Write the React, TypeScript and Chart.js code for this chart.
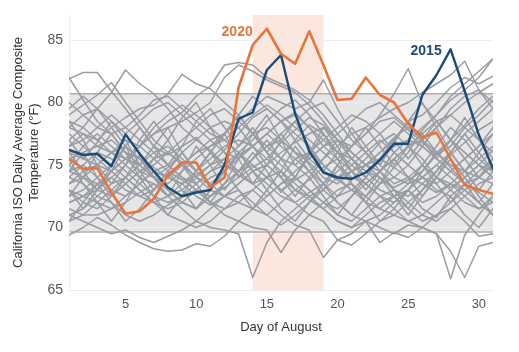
import React, { useEffect, useRef } from "react";
import { Chart, registerables } from "chart.js";

Chart.register(...registerables);

const DAYS = [1, 2, 3, 4, 5, 6, 7, 8, 9, 10, 11, 12, 13, 14, 15, 16, 17, 18, 19, 20, 21, 22, 23, 24, 25, 26, 27, 28, 29, 30, 31];
const X_TICKS = [5, 10, 15, 20, 25, 30];
const Y_TICKS = [65, 70, 75, 80, 85];

const Y2020 = [75.5, 74.7, 74.75, 72.8, 71.1, 71.3, 72.3, 74.2, 75.2, 75.2, 73.2, 74.0, 81.2, 84.6, 85.9, 83.9, 83.1, 85.7, 83.0, 80.2, 80.3, 82.0, 80.6, 80.0, 78.3, 77.2, 77.6, 75.5, 73.4, 73.0, 72.7];
const Y2015 = [76.2, 75.8, 75.9, 74.9, 77.45, 75.9, 74.5, 73.2, 72.5, 72.8, 73.0, 75.0, 78.7, 79.2, 82.6, 83.8, 79.1, 76.1, 74.4, 74.0, 73.9, 74.4, 75.4, 76.7, 76.7, 80.6, 82.2, 84.25, 80.9, 77.4, 74.7];

const g01 = [81.9, 82.4, 82.4, 80.9, 79.5, 78.0, 76.5, 75.8, 76.5, 77.2, 76.0, 75.0, 74.5, 75.5, 76.5, 77.0, 76.0, 75.2, 74.0, 73.5, 74.5, 75.5, 76.8, 77.5, 76.5, 75.5, 74.0, 73.2, 74.0, 75.0, 76.2];
const g02 = [82.0, 80.2, 78.5, 77.5, 76.0, 75.5, 74.8, 74.0, 73.5, 74.2, 75.0, 76.2, 77.5, 78.8, 79.5, 78.5, 77.0, 75.5, 74.5, 73.8, 73.0, 72.5, 73.5, 74.8, 76.0, 77.8, 79.0, 80.2, 81.0, 82.0, 83.5];
const g03 = [79.0, 79.8, 80.6, 81.6, 80.0, 78.5, 77.0, 76.0, 75.2, 74.0, 73.5, 74.5, 75.8, 76.5, 75.5, 74.5, 73.0, 72.2, 71.5, 72.5, 73.8, 75.0, 76.0, 77.2, 78.0, 77.5, 76.0, 74.8, 73.5, 72.8, 72.0];
const g04 = [77.0, 78.0, 79.5, 80.8, 82.6, 81.5, 80.7, 79.5, 78.0, 77.0, 76.2, 75.0, 74.2, 73.5, 74.0, 75.5, 77.0, 78.2, 77.5, 76.0, 75.0, 74.0, 73.0, 72.5, 73.5, 75.0, 76.5, 78.0, 77.0, 75.5, 74.5];
const g05 = [78.0, 77.5, 77.0, 78.0, 78.8, 79.5, 79.8, 80.7, 82.25, 81.5, 81.1, 80.0, 79.0, 77.5, 76.0, 75.0, 74.0, 73.0, 72.0, 71.5, 72.5, 73.5, 74.5, 76.0, 77.0, 76.5, 75.5, 74.5, 73.5, 74.0, 75.0];
const g06 = [76.0, 75.5, 75.0, 76.0, 77.0, 76.5, 77.5, 78.5, 79.2, 80.5, 81.3, 83.0, 83.2, 83.0, 82.0, 81.5, 81.0, 80.2, 79.0, 77.5, 76.0, 75.0, 74.5, 75.5, 76.5, 77.0, 78.0, 79.0, 80.0, 80.8, 81.5];
const g07 = [73.5, 74.0, 75.0, 74.5, 75.5, 76.5, 77.5, 78.0, 78.5, 79.2, 80.0, 82.0, 83.0, 82.5, 81.8, 81.3, 80.8, 79.8, 78.5, 77.0, 75.5, 74.5, 74.0, 73.2, 73.8, 74.5, 75.8, 77.0, 78.2, 79.5, 80.5];
const g08 = [72.0, 72.5, 73.5, 74.0, 73.0, 72.5, 73.0, 74.0, 75.0, 76.0, 77.0, 77.5, 78.5, 79.5, 80.5, 80.0, 79.5, 80.0, 81.8, 79.5, 77.5, 76.0, 75.0, 74.0, 73.5, 74.0, 75.0, 76.0, 77.5, 78.5, 79.5];
const g09 = [74.5, 74.0, 73.0, 72.5, 73.5, 74.5, 75.5, 76.0, 75.0, 74.0, 73.0, 72.5, 73.5, 74.5, 75.0, 76.0, 76.8, 77.5, 78.0, 77.0, 76.5, 77.5, 79.0, 80.7, 82.7, 79.9, 78.5, 77.0, 76.0, 75.0, 74.0];
const g10 = [75.5, 76.0, 76.5, 77.0, 76.0, 75.0, 74.0, 73.5, 74.5, 75.5, 76.5, 77.0, 76.0, 75.0, 74.0, 73.0, 73.8, 74.5, 75.5, 76.5, 77.5, 78.0, 78.8, 79.5, 80.0, 80.8, 81.5, 82.2, 83.3, 81.0, 79.5];
const g11 = [71.0, 71.5, 72.5, 73.5, 74.0, 73.0, 72.0, 71.5, 72.0, 73.0, 74.0, 74.5, 75.5, 76.5, 77.5, 76.5, 75.5, 74.5, 73.5, 72.5, 73.0, 74.0, 75.5, 76.5, 77.0, 78.0, 79.0, 80.5, 81.5, 82.5, 83.5];
const g12 = [78.5, 78.0, 77.0, 76.0, 75.0, 74.0, 73.5, 72.5, 73.0, 74.0, 75.0, 75.5, 74.5, 73.5, 72.5, 73.5, 74.5, 75.5, 76.5, 77.0, 76.0, 75.0, 76.0, 77.0, 78.5, 79.0, 80.0, 81.2, 82.0, 81.5, 82.1];
const g13 = [69.4, 70.0, 70.8, 70.2, 69.4, 68.8, 68.3, 68.1, 68.2, 68.7, 68.5, 69.3, 70.5, 71.5, 72.5, 73.5, 74.0, 73.0, 72.0, 71.0, 70.5, 71.5, 72.5, 73.0, 72.0, 71.0, 70.5, 71.5, 72.5, 73.5, 74.0];
const g14 = [71.0, 70.5, 70.0, 69.5, 69.8, 69.2, 68.8, 69.3, 69.8, 70.5, 71.5, 72.5, 73.0, 72.0, 71.0, 70.2, 71.0, 72.0, 73.0, 74.0, 74.5, 73.5, 72.5, 71.5, 70.5, 70.0, 71.0, 72.0, 73.0, 72.0, 71.0];
const g15 = [73.0, 72.5, 72.0, 71.5, 72.0, 72.8, 73.5, 72.5, 71.5, 70.5, 70.0, 69.8, 69.5, 66.0, 68.8, 70.5, 71.5, 72.5, 73.0, 72.0, 71.0, 70.5, 71.0, 72.0, 73.0, 74.0, 75.0, 74.0, 73.0, 72.0, 71.0];
const g16 = [74.0, 73.5, 72.5, 72.0, 71.0, 70.5, 71.0, 71.8, 72.5, 73.0, 72.0, 71.0, 70.5, 70.0, 69.8, 68.0, 69.8, 71.0, 72.0, 73.0, 73.5, 72.5, 71.5, 71.0, 70.5, 71.0, 72.0, 73.0, 74.0, 75.0, 74.5];
const g17 = [72.5, 73.0, 74.0, 75.0, 74.0, 73.0, 72.0, 71.0, 70.5, 70.0, 70.5, 71.5, 72.5, 73.0, 72.0, 71.0, 70.2, 69.8, 67.6, 69.0, 68.6, 69.5, 70.5, 71.0, 72.0, 73.0, 74.0, 73.5, 72.5, 71.5, 72.0];
const g18 = [74.5, 75.0, 74.0, 73.0, 72.5, 73.5, 74.5, 75.0, 74.0, 73.0, 72.0, 71.5, 72.0, 73.0, 74.0, 74.5, 73.5, 72.5, 71.5, 70.5, 70.0, 70.5, 70.0, 69.5, 70.2, 70.0, 69.5, 65.9, 69.4, 71.0, 72.5];
const g19 = [75.0, 74.0, 73.5, 74.5, 75.5, 75.0, 74.0, 73.0, 72.0, 71.5, 72.5, 73.5, 74.5, 75.0, 74.0, 73.0, 72.0, 71.0, 70.5, 69.0, 69.5, 70.5, 68.8, 69.6, 69.2, 70.0, 69.5, 68.1, 66.0, 68.5, 68.8];
const g20 = [70.5, 71.0, 72.0, 73.0, 74.0, 75.0, 76.0, 76.5, 75.5, 74.5, 73.5, 72.5, 72.0, 71.5, 71.0, 72.0, 73.0, 72.5, 71.5, 70.5, 70.0, 71.0, 72.0, 72.5, 71.5, 70.5, 71.0, 71.5, 70.5, 69.3, 69.5];
const g21 = [78.0, 79.0, 79.5, 78.5, 77.5, 78.5, 79.5, 80.0, 79.0, 78.0, 77.0, 76.0, 75.5, 76.5, 77.5, 78.5, 79.0, 78.0, 77.0, 76.0, 75.5, 76.5, 77.5, 78.5, 77.5, 76.5, 75.5, 74.5, 75.5, 76.5, 77.5];
const g22 = [80.0, 79.0, 78.0, 77.5, 78.0, 79.0, 80.2, 80.5, 79.5, 78.5, 77.5, 77.0, 78.0, 79.0, 79.8, 79.0, 78.0, 77.0, 76.0, 75.0, 74.0, 73.5, 74.5, 75.5, 76.5, 77.5, 78.5, 79.0, 78.0, 77.0, 76.0];
const g23 = [76.5, 77.0, 78.0, 79.0, 78.0, 77.0, 76.0, 75.0, 74.0, 73.5, 74.5, 75.5, 76.5, 77.5, 78.0, 77.0, 76.0, 75.5, 76.5, 77.5, 78.5, 79.5, 80.0, 79.0, 78.0, 77.0, 76.0, 75.0, 74.5, 74.0, 73.5];
const g24 = [73.0, 72.0, 71.5, 72.5, 73.5, 74.5, 75.0, 76.0, 77.0, 78.0, 79.0, 79.5, 78.5, 77.5, 76.5, 75.5, 75.0, 76.0, 77.0, 78.0, 79.0, 78.5, 77.5, 76.0, 75.0, 74.0, 73.5, 74.5, 75.5, 76.5, 78.0];
const g25 = [74.0, 75.0, 76.0, 75.5, 74.5, 73.5, 72.5, 72.0, 72.5, 73.5, 74.5, 75.0, 76.0, 77.0, 78.5, 79.5, 80.2, 79.0, 77.5, 76.0, 74.5, 73.5, 72.5, 72.0, 73.0, 74.5, 76.0, 77.0, 76.0, 75.0, 74.0];
const g26 = [79.5, 80.5, 79.5, 78.0, 76.5, 75.5, 74.5, 74.0, 75.0, 76.0, 76.5, 77.5, 79.0, 80.5, 79.5, 78.5, 77.5, 76.5, 75.0, 74.0, 75.0, 76.0, 77.0, 76.0, 75.0, 74.0, 73.0, 72.5, 73.5, 74.5, 75.5];
const g27 = [72.0, 72.5, 73.0, 74.0, 75.0, 76.5, 78.0, 79.0, 79.8, 79.0, 78.0, 77.0, 76.0, 74.5, 73.5, 72.5, 72.0, 72.8, 73.5, 74.5, 75.5, 74.5, 73.5, 74.0, 75.0, 76.5, 78.0, 79.5, 80.5, 81.0, 80.0];
const g28 = [77.5, 76.5, 75.5, 74.5, 73.5, 72.5, 72.0, 72.5, 73.5, 74.5, 75.5, 76.5, 77.0, 76.5, 77.5, 78.5, 79.2, 78.0, 76.5, 75.5, 74.5, 75.0, 75.5, 74.8, 74.0, 73.5, 72.8, 73.5, 74.5, 75.5, 76.5];
const g29 = [75.0, 76.5, 77.5, 76.5, 75.5, 74.5, 74.0, 74.8, 76.0, 77.0, 78.0, 78.5, 78.0, 76.5, 75.0, 74.0, 73.0, 73.8, 74.8, 75.5, 76.5, 77.5, 78.5, 78.8, 77.8, 76.8, 75.8, 76.5, 78.0, 79.0, 80.2];
const g30 = [73.5, 74.5, 75.0, 76.0, 76.5, 75.5, 74.0, 73.0, 72.0, 71.5, 72.5, 73.5, 74.5, 75.5, 76.5, 77.5, 78.5, 79.5, 80.0, 78.5, 77.0, 76.0, 74.5, 73.5, 74.0, 75.0, 74.0, 73.0, 72.0, 71.5, 72.5];
const g31 = [76.5, 77.5, 76.5, 76.0, 75.5, 76.5, 75.5, 74.5, 73.8, 73.0, 72.5, 73.2, 74.0, 74.8, 75.5, 76.8, 77.8, 78.8, 78.2, 77.0, 76.0, 75.0, 74.0, 73.0, 72.5, 73.5, 74.5, 75.8, 76.8, 77.8, 78.5];
const g32 = [71.5, 71.0, 71.0, 71.5, 72.5, 73.5, 74.5, 74.0, 73.5, 72.5, 71.8, 72.5, 73.5, 74.5, 75.0, 74.0, 75.5, 76.0, 75.0, 74.0, 73.0, 72.0, 71.5, 72.5, 73.0, 72.0, 72.5, 73.5, 73.0, 74.0, 75.0];
const g33 = [77.0, 75.5, 76.8, 78.5, 77.0, 75.0, 76.5, 78.0, 76.0, 74.5, 76.0, 77.5, 75.5, 73.5, 75.0, 77.0, 78.5, 76.5, 74.5, 76.0, 78.0, 76.5, 75.0, 76.8, 78.5, 77.0, 75.5, 77.0, 78.8, 77.0, 75.5];
const g34 = [74.5, 76.0, 74.0, 72.5, 74.0, 75.8, 74.0, 72.5, 74.5, 76.5, 75.0, 73.0, 74.5, 76.0, 74.5, 72.8, 74.0, 75.8, 77.5, 75.5, 73.5, 72.0, 73.5, 75.5, 74.0, 72.5, 74.0, 76.0, 74.5, 73.0, 74.5];
const g35 = [72.5, 74.0, 76.0, 77.5, 76.0, 74.0, 75.5, 77.0, 75.0, 73.5, 72.0, 73.5, 75.5, 77.5, 79.0, 77.0, 75.0, 74.0, 75.5, 77.0, 75.5, 74.0, 75.5, 77.0, 78.5, 80.0, 78.0, 76.0, 74.5, 76.0, 77.5];
const g36 = [78.5, 77.0, 75.0, 73.5, 75.0, 77.0, 78.5, 77.0, 78.8, 80.0, 78.0, 76.0, 74.0, 75.5, 77.0, 75.5, 74.0, 76.0, 78.0, 76.5, 74.5, 73.0, 74.5, 73.0, 71.5, 73.0, 74.5, 76.0, 77.5, 76.0, 74.5];
const g37 = [70.5, 72.0, 73.5, 72.0, 70.5, 71.5, 73.0, 74.5, 73.0, 71.5, 73.0, 74.5, 76.0, 74.5, 73.0, 71.5, 70.5, 72.0, 73.5, 75.0, 73.5, 72.0, 70.5, 71.5, 73.0, 71.5, 70.8, 72.5, 71.0, 70.0, 71.5];
const g38 = [76.0, 74.5, 73.0, 74.5, 76.5, 78.0, 76.5, 75.0, 76.5, 78.5, 79.5, 78.0, 76.5, 78.0, 76.0, 74.0, 72.5, 74.0, 72.5, 71.0, 72.5, 74.0, 75.5, 77.0, 75.5, 77.0, 78.5, 77.0, 75.5, 74.0, 75.5];
const g39 = [73.0, 71.5, 73.0, 75.0, 76.5, 74.5, 73.0, 74.5, 76.0, 74.5, 76.0, 77.5, 79.0, 77.5, 76.0, 77.5, 76.0, 74.5, 73.0, 75.0, 76.5, 78.0, 76.5, 75.0, 76.5, 75.0, 73.5, 72.0, 73.5, 72.0, 73.5];
const g40 = [75.5, 73.5, 72.0, 70.5, 72.0, 74.0, 72.5, 71.0, 72.5, 74.5, 76.0, 74.5, 73.0, 71.5, 73.0, 74.5, 76.5, 75.0, 73.5, 72.0, 71.0, 72.5, 74.0, 72.5, 71.0, 72.5, 74.0, 75.5, 74.0, 72.5, 71.0];

const OTHER_YEARS = [g01, g02, g03, g04, g05, g06, g07, g08, g09, g10, g11, g12, g13, g14, g15, g16, g17, g18, g19, g20, g21, g22, g23, g24, g25, g26, g27, g28, g29, g30, g31, g32, g33, g34, g35, g36, g37, g38, g39, g40];

const NORMAL_LOW = 69.65;
const NORMAL_HIGH = 80.7;
const HEAT_START = 14;
const HEAT_END = 19;

const LABEL_2020 = { text: "2020", day: 14.0, value: 85.66 };
const LABEL_2015 = { text: "2015", day: 27.37, value: 84.08 };

const ORANGE = "#e8743b";
const BLUE = "#1b4b78";
const GRAY = "#999ca3";
const FONT = "'Liberation Sans', Arial, Helvetica, sans-serif";

const bandPlugin = {
  id: "bands",
  beforeDraw(chart: any) {
    const { ctx, chartArea: a, scales } = chart;
    const x = scales.x;
    const y = scales.y;
    ctx.save();
    const px1 = x.getPixelForValue(HEAT_START);
    const px2 = x.getPixelForValue(HEAT_END);
    ctx.fillStyle = "#fbe7de";
    ctx.fillRect(px1, a.top, px2 - px1, a.bottom - a.top);
    const yTop = y.getPixelForValue(NORMAL_HIGH);
    const yBot = y.getPixelForValue(NORMAL_LOW);
    ctx.fillStyle = "#e6e6e6";
    ctx.fillRect(a.left, yTop, a.right - a.left, yBot - yTop);
    ctx.strokeStyle = "#aeaeae";
    ctx.lineWidth = 1.5;
    ctx.beginPath();
    ctx.moveTo(a.left, yTop);
    ctx.lineTo(a.right, yTop);
    ctx.moveTo(a.left, yBot);
    ctx.lineTo(a.right, yBot);
    ctx.stroke();
    ctx.restore();
  },
  afterDatasetsDraw(chart: any) {
    const { ctx, scales } = chart;
    const x = scales.x;
    const y = scales.y;
    ctx.save();
    ctx.font = `bold 14px ${FONT}`;
    ctx.textAlign = "right";
    ctx.textBaseline = "middle";
    ctx.fillStyle = ORANGE;
    ctx.fillText(LABEL_2020.text, x.getPixelForValue(LABEL_2020.day), y.getPixelForValue(LABEL_2020.value));
    ctx.fillStyle = BLUE;
    ctx.fillText(LABEL_2015.text, x.getPixelForValue(LABEL_2015.day), y.getPixelForValue(LABEL_2015.value));
    ctx.restore();
  },
};

const toPoints = (vals: number[]) => vals.map((v, i) => ({ x: DAYS[i], y: v }));

export default function App() {
  const ref = useRef<HTMLCanvasElement | null>(null);
  useEffect(() => {
    document.body.style.margin = "0";
    const canvas = ref.current;
    if (!canvas) return;
    const datasets: any[] = [
      { label: "2020", data: toPoints(Y2020), borderColor: ORANGE, borderWidth: 2.6, order: 0 },
      { label: "2015", data: toPoints(Y2015), borderColor: BLUE, borderWidth: 2.4, order: 1 },
      ...OTHER_YEARS.map((vals, i) => ({
        label: `other ${i + 1}`,
        data: toPoints(vals),
        borderColor: GRAY,
        borderWidth: 1.5,
        order: 2,
      })),
    ];
    const chart = new Chart(canvas, {
      type: "line",
      data: { datasets },
      options: {
        animation: false,
        responsive: false,
        devicePixelRatio: 1,
        layout: { padding: { top: 15, right: 26, bottom: 0, left: 0 } },
        elements: {
          point: { radius: 0 },
          line: { tension: 0, borderJoinStyle: "round", borderCapStyle: "round" },
        },
        plugins: { legend: { display: false }, tooltip: { enabled: false } },
        scales: {
          x: {
            type: "linear",
            min: 1,
            max: 31,
            afterBuildTicks: (s: any) => {
              s.ticks = X_TICKS.map((v) => ({ value: v }));
            },
            afterFit: (s: any) => {
              s.height = 62;
            },
            grid: { display: false, drawTicks: false },
            border: { display: true, color: "#ececec", width: 1 },
            ticks: { padding: 7, color: "#555", font: { family: FONT, size: 13 }, maxRotation: 0 },
            title: {
              display: true,
              text: "Day of August",
              color: "#333",
              font: { family: FONT, size: 13 },
              padding: { top: 0, bottom: 17 },
            },
          },
          y: {
            type: "linear",
            min: 65,
            max: 87,
            afterBuildTicks: (s: any) => {
              s.ticks = Y_TICKS.map((v) => ({ value: v }));
            },
            afterFit: (s: any) => {
              s.width = 69;
            },
            grid: { color: "#eeeeee", lineWidth: 1, drawTicks: false },
            border: { display: true, color: "#ececec", width: 1 },
            ticks: { padding: 6, color: "#555", font: { family: FONT, size: 14 } },
            title: {
              display: true,
              text: ["California ISO Daily Average Composite", "Temperature (°F)"],
              color: "#333",
              font: { family: FONT, size: 13, lineHeight: 1.2 },
              padding: { top: 11, bottom: 0 },
            },
          },
        },
      },
      plugins: [bandPlugin],
    });
    return () => chart.destroy();
  }, []);
  return (
    <div style={{ width: 519, height: 352 }}>
      <canvas ref={ref} width={519} height={352} />
    </div>
  );
}
